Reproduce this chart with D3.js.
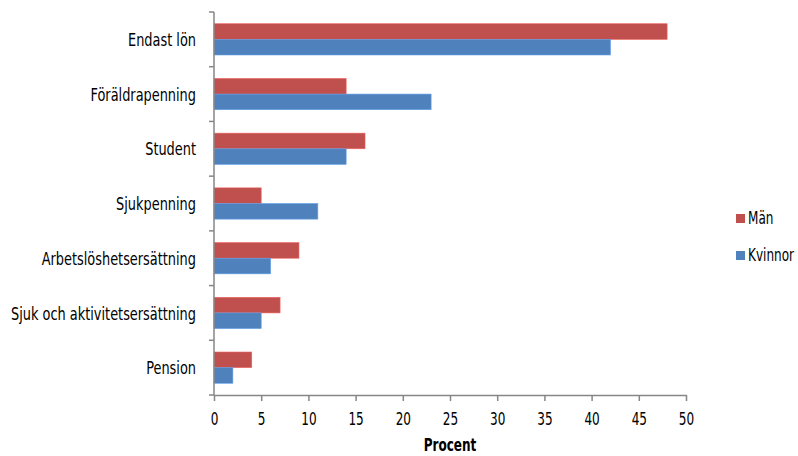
<!DOCTYPE html>
<html>
<head>
<meta charset="utf-8">
<script src="https://cdn.jsdelivr.net/npm/d3@7"></script>
<style>
  html, body { margin: 0; padding: 0; background: #fff; }
  svg text { font-family: "DejaVu Sans Condensed", "DejaVu Sans", sans-serif; font-stretch: condensed; fill: #000; }
</style>
</head>
<body>
<svg id="chart" width="798" height="456"></svg>
<script>
// Income source categories (top to bottom)
const categories = [
  "Endast lön",
  "Föräldrapenning",
  "Student",
  "Sjukpenning",
  "Arbetslöshetsersättning",
  "Sjuk och aktivitetsersättning",
  "Pension"
];
// Share in percent per series
const manValues     = [48, 14, 16, 5, 9, 7, 4];
const kvinnorValues = [42, 23, 14, 11, 6, 5, 2];
const seriesNames   = ["Män", "Kvinnor"];
const seriesColors  = ["#C0504D", "#4F81BD"];
const xTicks        = [0, 5, 10, 15, 20, 25, 30, 35, 40, 45, 50];

const svg = d3.select("#chart");
const margin = { left: 214, right: 112, top: 12, bottom: 61 };
const W = 798, H = 456;
const axisColor = "#868686";
const fs = 17.5;

const x = d3.scaleLinear().domain([0, 50]).range([margin.left, W - margin.right]);
const y = d3.scaleBand().domain(categories).range([margin.top, H - margin.bottom]).paddingInner(0).paddingOuter(0);
const inner = d3.scaleBand().domain(seriesNames).range([0, y.bandwidth()]).paddingInner(0).paddingOuter(0.75);

const rows = categories.map((c, i) => ({ cat: c, vals: [manValues[i], kvinnorValues[i]] }));

// Bars
const g = svg.append("g");
rows.forEach(r => {
  r.vals.forEach((v, j) => {
    g.append("rect")
      .attr("x", x(0))
      .attr("y", y(r.cat) + inner(seriesNames[j]))
      .attr("width", x(v) - x(0))
      .attr("height", inner.bandwidth())
      .attr("fill", seriesColors[j])
      .attr("stroke", d3.color(seriesColors[j]).brighter(0.6))
      .attr("stroke-width", 0.6);
  });
});

// Y axis with tick marks at category boundaries
const yAxisG = svg.append("g");
yAxisG.append("line")
  .attr("x1", x(0)).attr("x2", x(0))
  .attr("y1", margin.top).attr("y2", H - margin.bottom)
  .attr("stroke", axisColor).attr("stroke-width", 1.5);
const bounds = categories.map(c => y(c)).concat([H - margin.bottom]);
yAxisG.selectAll("line.tk").data(bounds).join("line")
  .attr("class", "tk")
  .attr("x1", x(0) - 5).attr("x2", x(0))
  .attr("y1", d => d).attr("y2", d => d)
  .attr("stroke", axisColor).attr("stroke-width", 1.5);
yAxisG.selectAll("text").data(categories).join("text")
  .attr("class", "lbl cat")
  .attr("data-ax", 196)
  .attr("y", d => y(d) + y.bandwidth() / 2)
  .attr("dy", "0.38em")
  .attr("text-anchor", "end")
  .attr("font-size", fs)
  .text(d => d);

// X axis
const xAxis = d3.axisBottom(x).tickValues(xTicks).tickSize(6).tickSizeOuter(0).tickPadding(12);
const xg = svg.append("g")
  .attr("transform", `translate(0,${H - margin.bottom})`)
  .call(xAxis);
xg.attr("font-family", null).attr("font-size", null);
xg.select(".domain").attr("stroke", axisColor).attr("stroke-width", 1.5);
xg.selectAll(".tick line").attr("stroke", axisColor).attr("stroke-width", 1.5);
xg.selectAll(".tick text").attr("class", "lbl").attr("data-ax", 0).attr("font-size", fs).attr("fill", "#000");

svg.append("text")
  .attr("class", "lbl")
  .attr("data-ax", x(25))
  .attr("y", 451)
  .attr("text-anchor", "middle")
  .attr("font-size", fs)
  .attr("font-weight", "bold")
  .text("Procent");

// Legend
const legend = svg.append("g");
seriesNames.forEach((n, j) => {
  const top = [214, 251][j];
  legend.append("rect")
    .attr("x", 736).attr("y", top)
    .attr("width", 9).attr("height", 9)
    .attr("fill", seriesColors[j]);
  legend.append("text")
    .attr("class", "lbl")
    .attr("data-ax", 748)
    .attr("y", top + 10)
    .attr("font-size", fs)
    .text(n);
});

// Condensed lettering: narrow labels horizontally ("Kvinnor" spans 46px,
// the longest category label spans 185px)
const kv = legend.selectAll("text").filter(function () { return this.textContent === "Kvinnor"; }).node();
const squeeze = Math.min(1, 46 / kv.getComputedTextLength());
const longest = yAxisG.selectAll("text").filter(d => d === "Sjuk och aktivitetsersättning").node();
const catSqueeze = Math.min(1, 185 / longest.getComputedTextLength());
svg.selectAll("text.lbl").each(function () {
  const ax = +this.getAttribute("data-ax");
  const s = this.classList.contains("cat") ? catSqueeze : squeeze;
  d3.select(this)
    .attr("x", 0)
    .attr("transform", `translate(${ax},0) scale(${s},1)`);
});
</script>
</body>
</html>
